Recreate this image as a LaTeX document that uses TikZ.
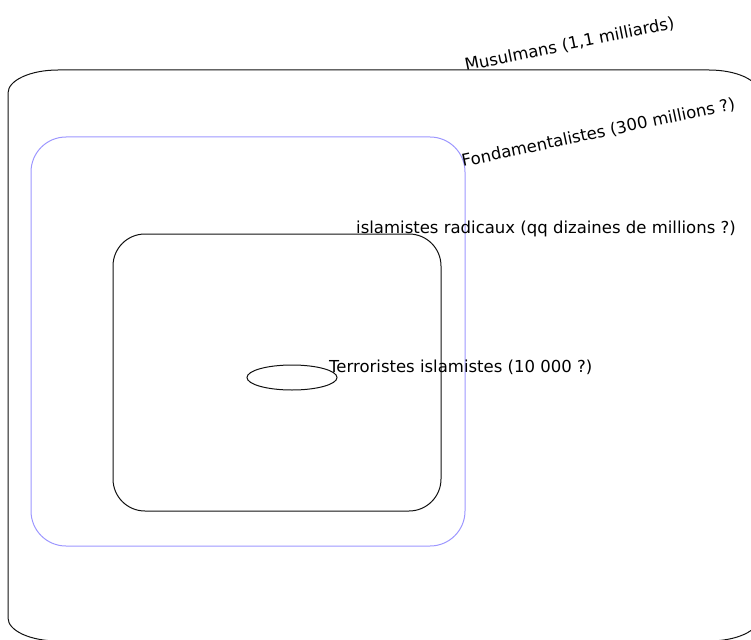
\documentclass[tikz,border=0pt]{standalone}
\usepackage{fontspec}
\usepackage{tikz}
\usetikzlibrary{shapes.geometric}
\newfontfamily\venn{DejaVu Sans}
\definecolor{ink}{HTML}{111111}
\definecolor{lavender}{HTML}{9D97FF}
\tikzset{
  zone/.style={draw=ink, line width=1pt, rectangle, inner sep=0pt},
  fond/.style={zone, draw=lavender, minimum width=434pt, minimum height=409pt,
               rounded corners=35pt},
  radic/.style={zone, minimum width=328pt, minimum height=277pt, rounded corners=32pt},
  terr/.style={ellipse, draw=ink, line width=1pt, inner sep=0pt,
               minimum width=90pt, minimum height=25pt},
  lbl/.style={font=\venn\fontsize{16.5}{20}\selectfont, inner sep=0pt, anchor=base west},
}
\begin{document}
\begin{tikzpicture}[x=1pt,y=-1pt]
\path[use as bounding box, clip] (0,0) rectangle (751,639);

% --- Musulmans ---
\draw[ink, line width=1pt] (8,93) arc[start angle=180,end angle=270,x radius=50,y radius=23]
  -- (709,70) arc[start angle=270,end angle=360,x radius=50,y radius=23]
  -- (759,618) arc[start angle=0,end angle=90,x radius=50,y radius=23]
  -- (58,641) arc[start angle=90,end angle=180,x radius=50,y radius=23] -- cycle;
\node[lbl, rotate=11.5] (musul) at (466,71) {Musulmans (1,1 milliards)};

% --- Fondamentalistes ---
\node[fond] (fondbox) at (248,341.5) {};
\node[lbl, rotate=12] (fondam) at (463,167) {Fondamentalistes (300 millions ?)};

% --- islamistes radicaux ---
\node[radic] (radbox) at (277,372.5) {};
\node[lbl] (radical) at (356,233) {islamistes radicaux (qq dizaines de millions ?)};

% --- Terroristes ---
\node[terr] (terrell) at (292,377.5) {};
\node[lbl] (terror) at (329,372) {Terroristes islamistes (10 000 ?)};
\end{tikzpicture}
\end{document}
